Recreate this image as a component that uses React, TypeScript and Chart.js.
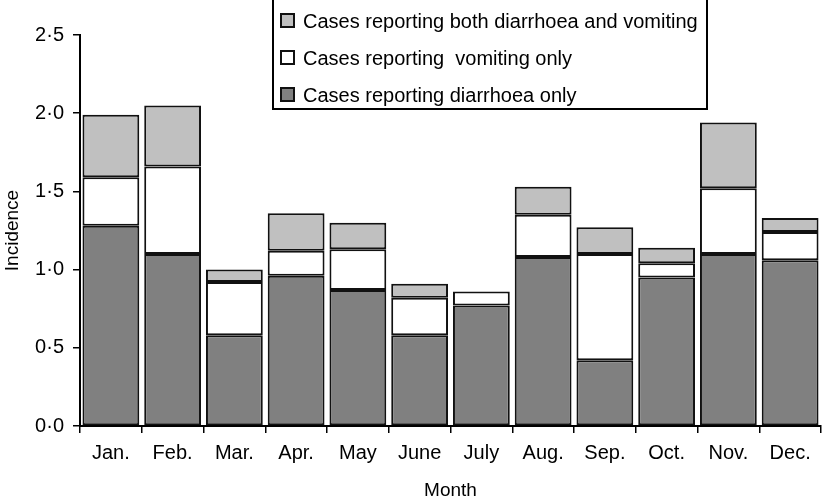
import { useEffect, useRef } from 'react'
import { Chart, ChartConfiguration, Plugin, registerables } from 'chart.js'

Chart.register(...registerables)

const months = ['Jan.', 'Feb.', 'Mar.', 'Apr.', 'May', 'June', 'July', 'Aug.', 'Sep.', 'Oct.', 'Nov.', 'Dec.']
const diarrhoeaOnly = [1.28, 1.1, 0.58, 0.96, 0.87, 0.58, 0.77, 1.08, 0.42, 0.95, 1.1, 1.06]
const vomitingOnly = [0.31, 0.56, 0.34, 0.16, 0.26, 0.24, 0.09, 0.27, 0.68, 0.09, 0.42, 0.18]
const bothSymptoms = [0.4, 0.39, 0.08, 0.24, 0.17, 0.09, 0, 0.18, 0.17, 0.1, 0.42, 0.09]
const yTicks = [0, 0.5, 1, 1.5, 2, 2.5]

const FONT = '"Liberation Sans", Arial, Helvetica, sans-serif'
const EDGE = '#111'

// boxed legend in the top right, listed top-down from the top of the stack
const boxLegend: Plugin<'bar'> = {
  id: 'boxLegend',
  afterDraw(chart) {
    const ctx = chart.ctx
    const items = [...chart.data.datasets].reverse()
    ctx.save()
    ctx.lineWidth = 2
    ctx.strokeStyle = '#000'
    ctx.strokeRect(273, -1, 434, 110)
    ctx.font = `20px ${FONT}`
    ctx.textBaseline = 'middle'
    items.forEach((ds, i) => {
      const y = 21 + i * 37
      ctx.fillStyle = ds.backgroundColor as string
      ctx.fillRect(281, y - 7, 13, 13)
      ctx.lineWidth = 2
      ctx.strokeStyle = EDGE
      ctx.strokeRect(281, y - 7, 13, 13)
      ctx.fillStyle = '#000'
      ctx.fillText(ds.label as string, 303, y + 1)
    })
    ctx.restore()
  },
}

export default function App() {
  const canvasRef = useRef<HTMLCanvasElement>(null)
  const chartRef = useRef<Chart | null>(null)

  useEffect(() => {
    if (!canvasRef.current) return
    const ctx = canvasRef.current.getContext('2d')
    if (!ctx) return

    if (chartRef.current) chartRef.current.destroy()

    const bar = {
      borderColor: EDGE,
      borderWidth: 2,
      borderSkipped: false as const,
      barPercentage: 0.92,
      categoryPercentage: 1,
    }

    const config: ChartConfiguration<'bar'> = {
      type: 'bar',
      data: {
        labels: months,
        datasets: [
          { label: 'Cases reporting diarrhoea only', data: diarrhoeaOnly, backgroundColor: '#808080', ...bar },
          { label: 'Cases reporting  vomiting only', data: vomitingOnly, backgroundColor: '#ffffff', ...bar },
          { label: 'Cases reporting both diarrhoea and vomiting', data: bothSymptoms, backgroundColor: '#c0c0c0', ...bar },
        ],
      },
      options: {
        responsive: true,
        maintainAspectRatio: false,
        animation: false,
        layout: { padding: { top: 35, right: 1, left: 0, bottom: 0 } },
        plugins: {
          legend: { display: false },
          tooltip: { enabled: false },
        },
        scales: {
          x: {
            stacked: true,
            grid: { drawOnChartArea: false, drawTicks: true, tickLength: 7, color: '#000', lineWidth: 1.5 },
            border: { color: '#000', width: 2 },
            ticks: { color: '#000', font: { family: FONT, size: 20 }, padding: 8 },
            title: {
              display: true,
              text: 'Month',
              color: '#000',
              font: { family: FONT, size: 19 },
              padding: { top: 0, bottom: 1 },
            },
            afterFit: (s) => {
              s.height = 77
            },
          },
          y: {
            stacked: true,
            min: 0,
            max: 2.5,
            afterBuildTicks: (s) => {
              s.ticks = yTicks.map((v) => ({ value: v }))
            },
            grid: { drawOnChartArea: false, drawTicks: true, tickLength: 7, color: '#000', lineWidth: 1.5 },
            border: { color: '#000', width: 2 },
            ticks: {
              color: '#000',
              font: { family: FONT, size: 20 },
              padding: 9,
              callback: (v) => Number(v).toFixed(1).replace('.', '·'),
            },
            title: {
              display: true,
              text: 'Incidence',
              color: '#000',
              font: { family: FONT, size: 19 },
              padding: { top: 1, bottom: 0 },
            },
            afterFit: (s) => {
              s.width = 80
            },
          },
        },
      },
      plugins: [boxLegend],
    }

    chartRef.current = new Chart(ctx, config)

    return () => {
      chartRef.current?.destroy()
    }
  }, [])

  return (
    <div style={{ position: 'absolute', left: 0, top: 0, width: 822, height: 503, background: '#fff' }}>
      <canvas ref={canvasRef} />
    </div>
  )
}
